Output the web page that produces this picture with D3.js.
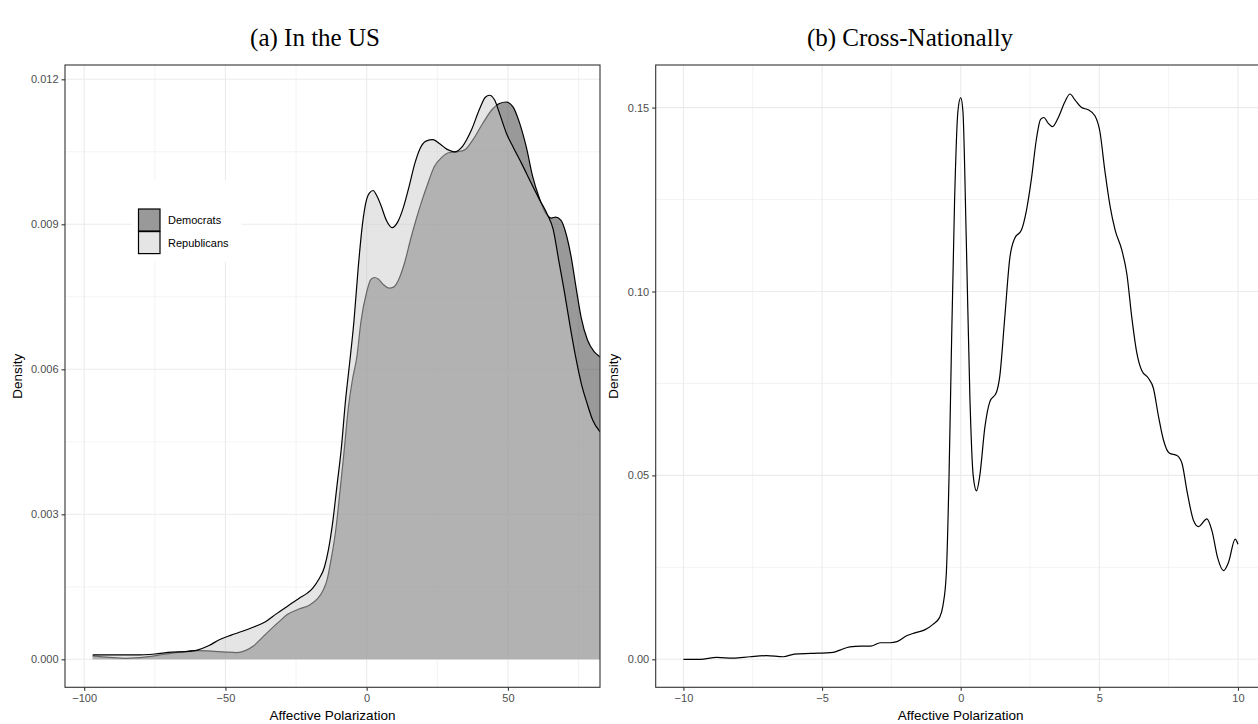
<!DOCTYPE html>
<html>
<head>
<meta charset="utf-8">
<script src="https://cdn.jsdelivr.net/npm/d3@7"></script>
<style>
  html, body { margin: 0; padding: 0; background: #fff; }
  svg { display: block; }
</style>
</head>
<body>
<svg id="chart" width="1258" height="724"></svg>
<script>
// ---- Panel (a): density of affective polarization in the US, by party ----
const usX = [-97, -91, -85, -78, -72, -66, -60, -55, -50, -46, -43, -40, -37, -34, -31, -28, -24, -20, -17.5, -15.5, -14, -12.5, -11, -9.5, -8, -6.5, -5, -3.5, -2, 0, 1.5, 2.8, 4.1, 6, 8, 9.5, 11.5, 13.5, 15.5, 17.5, 19.5, 21.5, 24, 26.5, 29, 32, 34.7, 37.5, 41, 44.5, 47, 49.4, 51.8, 54, 56.5, 58.8, 61.2, 63.5, 65.3, 67, 68.8, 70.6, 72.4, 74.1, 75.9, 78.2, 80.6, 82.6, 84];
const democrats = [0.00007, 0.00004, 0.00002, 0.00005, 0.00010, 0.00015, 0.00018, 0.00017, 0.00015, 0.00014, 0.00018, 0.00028, 0.00045, 0.00062, 0.00078, 0.00093, 0.00104, 0.00113, 0.00125, 0.00142, 0.00165, 0.00210, 0.00265, 0.00345, 0.00430, 0.00520, 0.00580, 0.00625, 0.00700, 0.00760, 0.00786, 0.00790, 0.00787, 0.00775, 0.00768, 0.00770, 0.00788, 0.00822, 0.00868, 0.00910, 0.00948, 0.00982, 0.01020, 0.01038, 0.01048, 0.01050, 0.01054, 0.01074, 0.01108, 0.01138, 0.01150, 0.01153, 0.01143, 0.01112, 0.01060, 0.00998, 0.00953, 0.00922, 0.00913, 0.00915, 0.00908, 0.00880, 0.00832, 0.00770, 0.00708, 0.00660, 0.00636, 0.00626, 0.00620];

const usXr = [-97, -90, -82, -75, -69, -64, -60, -56, -52, -48, -44, -40, -36, -32, -28, -24, -21, -19, -17, -15, -13.5, -12, -10.5, -9, -7.5, -6, -4.5, -3, -1.5, 0, 1, 2.3, 3.5, 5, 7, 9, 11, 13, 15, 17, 19, 21, 23.5, 26, 28.5, 31, 34, 37, 40, 42, 43.5, 45.3, 47, 49.5, 52, 55, 58, 61, 64, 66, 68, 70, 72, 74, 76, 78, 80, 82.6, 84];
const republicans = [0.00009, 0.00009, 0.00009, 0.00011, 0.00015, 0.00016, 0.00019, 0.00028, 0.00041, 0.00050, 0.00058, 0.00067, 0.00077, 0.00094, 0.00110, 0.00126, 0.00137, 0.00148, 0.00165, 0.00190, 0.00228, 0.00285, 0.00360, 0.00435, 0.00535, 0.00615, 0.00700, 0.00810, 0.00900, 0.00952, 0.00965, 0.00970, 0.00960, 0.00940, 0.00908, 0.00893, 0.00905, 0.00935, 0.00978, 0.01025, 0.01058, 0.01072, 0.01075, 0.01066, 0.01055, 0.01050, 0.01062, 0.01094, 0.01139, 0.01163, 0.01167, 0.01157, 0.01130, 0.01088, 0.01058, 0.01024, 0.00988, 0.00953, 0.00920, 0.00890, 0.00825, 0.00760, 0.00690, 0.00625, 0.00570, 0.00530, 0.00495, 0.00471, 0.00462];

const usXTicks = [-100, -50, 0, 50];
const usYTicks = [0.000, 0.003, 0.006, 0.009, 0.012];
const partyLabels = ["Democrats", "Republicans"];

// ---- Panel (b): cross-national density ----
const cnX = [-10, -9.4, -8.8, -8.2, -7.6, -7.0, -6.4, -6.0, -5.4, -4.6, -4.35, -4.0, -3.6, -3.25, -2.9, -2.55, -2.3, -1.95, -1.65, -1.3, -1.0, -0.76, -0.64, -0.52, -0.42, -0.34, -0.22, -0.10, 0.0, 0.08, 0.2, 0.33, 0.45, 0.57, 0.69, 0.87, 1.05, 1.29, 1.41, 1.59, 1.77, 1.95, 2.19, 2.37, 2.55, 2.73, 2.88, 3.0, 3.16, 3.31, 3.52, 3.76, 3.94, 4.12, 4.36, 4.6, 4.84, 5.02, 5.2, 5.39, 5.57, 5.81, 5.99, 6.17, 6.35, 6.53, 6.77, 6.95, 7.13, 7.31, 7.53, 7.8, 7.98, 8.16, 8.4, 8.58, 8.88, 9.06, 9.27, 9.48, 9.66, 9.9, 10.0];
const cnDensity = [0.0000, 0.0000, 0.0005, 0.0003, 0.0007, 0.0010, 0.0007, 0.0014, 0.0016, 0.0019, 0.0025, 0.0034, 0.0036, 0.0036, 0.0045, 0.0045, 0.0048, 0.0064, 0.0072, 0.0080, 0.0095, 0.0114, 0.0146, 0.0232, 0.050, 0.082, 0.125, 0.149, 0.1527, 0.149, 0.1145, 0.0716, 0.050, 0.0458, 0.050, 0.063, 0.070, 0.0726, 0.077, 0.093, 0.109, 0.1145, 0.1167, 0.122, 0.1306, 0.1414, 0.1468, 0.1473, 0.1457, 0.1448, 0.1473, 0.1516, 0.1537, 0.1521, 0.150, 0.1494, 0.1478, 0.1435, 0.1328, 0.1231, 0.1167, 0.1113, 0.1049, 0.093, 0.0834, 0.0785, 0.0764, 0.0737, 0.0662, 0.0597, 0.056, 0.0554, 0.0533, 0.0458, 0.0377, 0.0361, 0.0382, 0.035, 0.0275, 0.0241, 0.0264, 0.0327, 0.0313];

const cnXTicks = [-10, -5, 0, 5, 10];
const cnYTicks = [0.00, 0.05, 0.10, 0.15];

const titles = ["(a) In the US", "(b) Cross-Nationally"];
const xTitle = "Affective Polarization";
const yTitle = "Density";

const svg = d3.select("#chart");
const SANS = "'Liberation Sans', Arial, Helvetica, sans-serif";

function drawPanel(opt) {
  const { left, top, right, bottom, xDomain, yDomain, xTicks, yTicks, yFormat, id } = opt;
  const x = d3.scaleLinear().domain(xDomain).range([left, right]);
  const y = d3.scaleLinear().domain(yDomain).range([bottom, top]);
  const g = svg.append("g");

  g.append("clipPath").attr("id", id)
    .append("rect").attr("x", left).attr("y", top)
    .attr("width", right - left).attr("height", bottom - top);

  // grid: minor lines halfway between the major ticks
  const minorX = d3.pairs(xTicks).map(([a, b]) => (a + b) / 2);
  const minorY = d3.pairs(yTicks).map(([a, b]) => (a + b) / 2);
  const xStep = xTicks[1] - xTicks[0];
  const yStep = yTicks[1] - yTicks[0];
  minorX.push(xTicks[0] - xStep / 2, xTicks[xTicks.length - 1] + xStep / 2);
  minorY.push(yTicks[0] - yStep / 2, yTicks[yTicks.length - 1] + yStep / 2);

  const grid = g.append("g").attr("clip-path", `url(#${id})`);
  grid.selectAll(".gxm").data(minorX).join("line")
    .attr("x1", d => x(d)).attr("x2", d => x(d)).attr("y1", top).attr("y2", bottom)
    .attr("stroke", "#ebebeb").attr("stroke-width", 0.6);
  grid.selectAll(".gym").data(minorY).join("line")
    .attr("y1", d => y(d)).attr("y2", d => y(d)).attr("x1", left).attr("x2", right)
    .attr("stroke", "#ebebeb").attr("stroke-width", 0.6);
  grid.selectAll(".gx").data(xTicks).join("line")
    .attr("x1", d => x(d)).attr("x2", d => x(d)).attr("y1", top).attr("y2", bottom)
    .attr("stroke", "#ebebeb").attr("stroke-width", 1.1);
  grid.selectAll(".gy").data(yTicks).join("line")
    .attr("y1", d => y(d)).attr("y2", d => y(d)).attr("x1", left).attr("x2", right)
    .attr("stroke", "#ebebeb").attr("stroke-width", 1.1);

  const marks = g.append("g").attr("clip-path", `url(#${id})`);

  // axes
  const xAxis = d3.axisBottom(x).tickValues(xTicks).tickSize(3.5).tickPadding(3);
  const yAxis = d3.axisLeft(y).tickValues(yTicks).tickSize(3.5).tickPadding(3).tickFormat(d3.format(yFormat));
  const ax = g.append("g").attr("transform", `translate(0,${bottom})`).call(xAxis);
  const ay = g.append("g").attr("transform", `translate(${left},0)`).call(yAxis);
  [ax, ay].forEach(a => {
    a.select(".domain").remove();
    a.selectAll(".tick line").attr("stroke", "#333").attr("stroke-width", 1.1);
    a.selectAll(".tick text").attr("fill", "#4d4d4d").style("font-family", SANS).style("font-size", "11px");
  });

  // panel border
  g.append("rect").attr("x", left).attr("y", top)
    .attr("width", right - left).attr("height", bottom - top)
    .attr("fill", "none").attr("stroke", "#333").attr("stroke-width", 1.1);

  // axis titles
  g.append("text").attr("x", (left + right) / 2).attr("y", 720)
    .attr("text-anchor", "middle").style("font-family", SANS).style("font-size", "13.5px")
    .attr("fill", "#000").text(xTitle);
  g.append("text")
    .attr("transform", `translate(${opt.yTitleX},${(top + bottom) / 2}) rotate(-90)`)
    .attr("text-anchor", "middle").style("font-family", SANS).style("font-size", "13.5px")
    .attr("fill", "#000").text(yTitle);

  return { x, y, marks, g };
}

// ---------- Panel (a) ----------
const pa = drawPanel({
  id: "clipA", left: 65, top: 65, right: 600, bottom: 687.3,
  xDomain: [-106.8, 82.6], yDomain: [-0.000579, 0.012296],
  xTicks: usXTicks, yTicks: usYTicks, yFormat: ".3f", yTitleX: 22
});

function drawDensity(panel, xs, ys, fill) {
  const pts = xs.map((v, i) => [v, ys[i]]);
  const area = d3.area().curve(d3.curveMonotoneX)
    .x(d => panel.x(d[0])).y0(panel.y(0)).y1(d => panel.y(d[1]));
  const line = d3.line().curve(d3.curveMonotoneX)
    .x(d => panel.x(d[0])).y(d => panel.y(d[1]));
  panel.marks.append("path").datum(pts).attr("d", area)
    .attr("fill", fill).attr("fill-opacity", 0.5);
  panel.marks.append("path").datum(pts).attr("d", line)
    .attr("fill", "none").attr("stroke", "#000").attr("stroke-width", 1.2);
}

const partyFill = { Democrats: "#333333", Republicans: "#cbcbcb" };
drawDensity(pa, usX, democrats, partyFill.Democrats);
drawDensity(pa, usXr, republicans, partyFill.Republicans);

// legend inside panel (a)
const leg = svg.append("g");
leg.append("rect").attr("x", 131.7).attr("y", 180).attr("width", 110).attr("height", 82).attr("fill", "#fff");
partyLabels.forEach((name, i) => {
  const ky = 209 + i * 22.6;
  leg.append("rect").attr("x", 138.5).attr("y", ky).attr("width", 21.5).attr("height", 22)
    .attr("fill", "#fff");
  leg.append("rect").attr("x", 138.5).attr("y", ky).attr("width", 21.5).attr("height", 22)
    .attr("fill", partyFill[name]).attr("fill-opacity", 0.5)
    .attr("stroke", "#000").attr("stroke-width", 1.2);
  leg.append("text").attr("x", 168).attr("y", ky + 15)
    .style("font-family", SANS).style("font-size", "11px").attr("fill", "#000").text(name);
});

// ---------- Panel (b) ----------
const pb = drawPanel({
  id: "clipB", left: 655.7, top: 65, right: 1265.7, bottom: 687.3,
  xDomain: [-11, 11], yDomain: [-0.00761, 0.16158],
  xTicks: cnXTicks, yTicks: cnYTicks, yFormat: ".2f", yTitleX: 618
});
const cnPts = cnX.map((v, i) => [v, cnDensity[i]]);
pb.marks.append("path").datum(cnPts)
  .attr("d", d3.line().curve(d3.curveMonotoneX).x(d => pb.x(d[0])).y(d => pb.y(d[1])))
  .attr("fill", "none").attr("stroke", "#000").attr("stroke-width", 1.2);

// ---------- Subfigure captions ----------
const SERIF = "'Liberation Serif', 'DejaVu Serif', serif";
svg.append("text").attr("x", 315).attr("y", 46).attr("text-anchor", "middle")
  .style("font-family", SERIF).style("font-size", "25px").attr("fill", "#000").text(titles[0]);
svg.append("text").attr("x", 910).attr("y", 46).attr("text-anchor", "middle")
  .style("font-family", SERIF).style("font-size", "25px").attr("fill", "#000").text(titles[1]);
</script>
</body>
</html>
